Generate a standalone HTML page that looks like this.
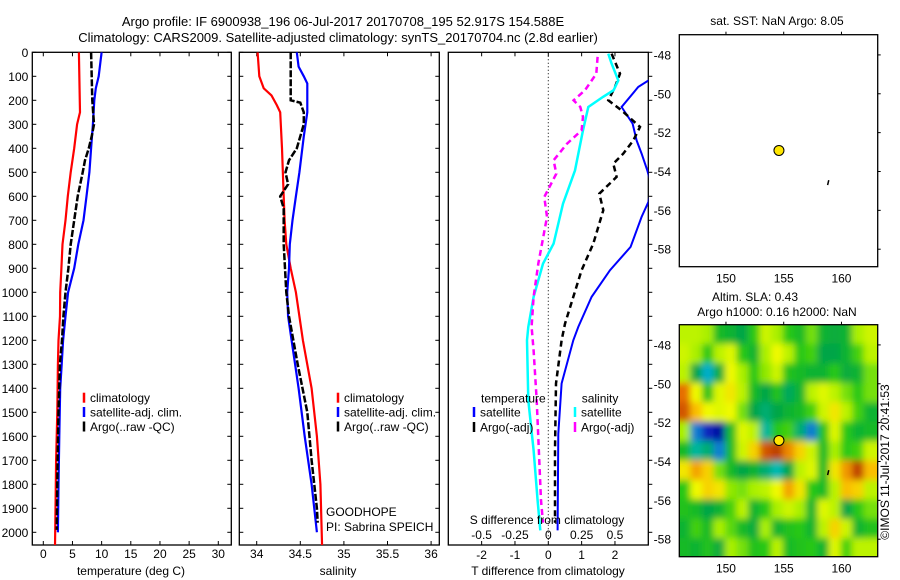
<!DOCTYPE html>
<html><head><meta charset="utf-8"><style>
html,body{margin:0;padding:0;background:#fff;}
svg{display:block;font-family:"Liberation Sans",Arial,sans-serif;}
text{font-size:12px;fill:#000;}
</style></head><body>
<svg id="fig" width="900" height="580" viewBox="0 0 900 580" xmlns="http://www.w3.org/2000/svg">
<defs>
<clipPath id="c1"><rect x="32.3" y="52.3" width="199" height="492.7"/></clipPath>
<clipPath id="c2"><rect x="239.3" y="52.3" width="200" height="492.7"/></clipPath>
<clipPath id="c3"><rect x="448.3" y="52.3" width="200" height="492.7"/></clipPath>
<clipPath id="cm"><rect x="679.3" y="324.7" width="198.4" height="232"/></clipPath>
<filter id="blur" x="-10%" y="-10%" width="120%" height="120%"><feGaussianBlur stdDeviation="3.5"/></filter>
</defs>
<text x="343" y="26" text-anchor="middle" style="font-size:13px">Argo profile: IF 6900938_196 06-Jul-2017 20170708_195 52.917S 154.588E</text>
<text x="338" y="42" text-anchor="middle" style="font-size:13px">Climatology: CARS2009. Satellite-adjusted climatology: synTS_20170704.nc (2.8d earlier)</text>
<g id="g1"></g>
<g id="g2"></g>
<g id="g3"></g>
<g id="gm1"></g>
<g id="gm2"></g>
</svg>
<script>
// ---------- data ----------
const depthTicks=[0,100,200,300,400,500,600,700,800,900,1000,1100,1200,1300,1400,1500,1600,1700,1800,1900,2000];
const tempTicks=[0,5,10,15,20,25,30];
const salTicks=[34,34.5,35,35.5,36];
const salTickLabels=["34","34.5","35","35.5","36"];
const dTTicks=[-2,-1,0,1,2];
const dSTicks=[-0.5,-0.25,0,0.25,0.5];
const dSTickLabels=["-0.5","-0.25","0","0.25","0.5"];

const climTDepth=[0,250,300,400,500,600,700,800,900,1000,1100,1200,1300,1500,1700,1900,2060];
const climT=[6.1,6.3,5.8,5.3,4.7,4.2,3.8,3.3,3.1,2.9,2.86,2.6,2.5,2.4,2.2,2.1,2.0];
const satTDepth=[0,100,150,200,300,400,500,600,700,800,900,1000,1100,1200,1300,1400,1600,1800,2000];
const satT=[10.0,9.5,9.0,8.75,8.5,8.2,7.9,7.4,6.9,6.0,5.3,4.25,3.8,3.4,3.15,2.9,2.75,2.6,2.5];
const argoTDepth=[0,200,300,350,400,450,500,600,700,800,900,1000,1100,1200,1300,1500,1700,1990];
const argoT=[8.2,8.4,8.7,8.3,7.8,7.15,6.75,5.9,5.3,4.7,4.3,3.8,3.45,3.2,2.85,2.6,2.45,2.3];

const climSDepth=[0,100,150,180,220,250,400,600,700,800,900,1000,1200,1400,1600,1800,2060];
const climS=[34.01,34.03,34.08,34.17,34.23,34.27,34.29,34.31,34.32,34.34,34.39,34.45,34.53,34.63,34.69,34.73,34.75];
const satSDepth=[0,60,100,130,250,350,500,600,700,800,900,1000,1100,1200,1400,1600,1800,2000];
const satS=[34.46,34.48,34.54,34.58,34.58,34.54,34.49,34.45,34.41,34.38,34.37,34.35,34.36,34.40,34.48,34.55,34.63,34.69];
const argoSDepth=[0,200,210,250,300,400,450,500,550,600,650,800,1000,1100,1300,1500,1700,1900,1960];
const argoS=[34.39,34.39,34.50,34.54,34.54,34.46,34.37,34.33,34.36,34.27,34.31,34.31,34.34,34.37,34.47,34.58,34.63,34.69,34.70];

const dTSatDepth=[0,100,144,228,297,367,422,492,560,624,686,811,908,1019,1144,1200,1380,1590,1992];
const dTSat=[3.6,3.2,2.7,2.2,2.53,2.65,2.8,2.97,3.1,3.0,2.8,2.47,1.85,1.3,0.9,0.75,0.4,0.3,0.28];
const dTArgoDepth=[6,89,144,200,242,311,367,422,464,519,589,658,797,908,1019,1131,1200,1380,1658,1922,1960];
const dTArgo=[1.9,2.15,2.0,1.8,2.2,2.75,2.55,2.25,1.95,2.05,1.53,1.65,1.35,1.0,0.75,0.5,0.4,0.23,0.2,0.2,0.2];
const dSSatDepth=[6,47,117,158,186,228,325,492,631,797,881,1019,1144,1200,1450,1658,1867,1992];
const dSSat=[0.45,0.475,0.525,0.49,0.41,0.3,0.26,0.2,0.11,0.04,-0.04,-0.11,-0.15,-0.16,-0.15,-0.11,-0.08,-0.06];
const dSArgoDepth=[19,89,158,200,228,269,325,381,450,506,603,686,881,1019,1144,1242,1450,1867,1960];
const dSArgo=[0.37,0.36,0.275,0.19,0.24,0.26,0.25,0.14,0.04,0.06,-0.03,-0.01,-0.075,-0.11,-0.125,-0.11,-0.087,-0.055,-0.04];

const latTicks=[-48,-50,-52,-54,-56,-58];
const lonTicks=[150,155,160];
const floatPos=[154.588,-52.917];
const trackLon=[158.9,158.8];
const trackLat=[-54.45,-54.7];
const gridLats=[-47.5,-48.5,-49.5,-50.5,-51.5,-52.5,-53.5,-54.5,-55.5,-56.5,-57.5,-58.5];
const gridLons=[146.5,147.5,148.5,149.5,150.5,151.5,152.5,153.5,154.5,155.5,156.5,157.5,158.5,159.5,160.5,161.5,162.5];
const slaRow0=[0.3,0.3,0.2,-0.5,-0.6,-0.8,-0.3,0.4,0.2,-0.3,-0.5,0,-0.6,-0.7,-0.6,0.2,0.4];
const slaRow1=[0.4,0.2,-0.3,0.3,0.5,-0.3,-0.6,0.2,0.6,0.3,-0.3,-0.2,-0.8,-0.8,-0.6,-0.2,0.3];
const slaRow2=[0.3,-0.8,-1.5,-0.7,0.6,0.2,-0.3,0.1,0.4,-0.4,-0.5,-0.6,-0.6,-0.3,-0.7,-0.6,0];
const slaRow3=[1.8,0.6,-0.4,0.5,0.8,0.3,-0.5,-0.8,-0.4,-0.9,-0.6,0.3,0.5,0.3,0,-0.3,0];
const slaRow4=[2.0,1.2,0.6,0.5,0.6,0,-0.8,-1,-0.8,-0.6,-0.5,-0.2,0.4,0.8,0.3,-0.2,-0.6];
const slaRow5=[0.2,-1.8,-2.5,-2.8,-0.5,0.5,0.3,-1.2,-0.3,-0.2,-1,-1.8,-0.4,0.5,-0.3,-0.6,-0.5];
const slaRow6=[-0.5,-1.2,-1,-1.8,-0.5,0.4,1.0,2.0,2.2,1.6,1.0,0.4,-0.5,0.2,-0.3,-0.2,0.4];
const slaRow7=[0.8,1.4,1.0,0,-0.5,-0.8,-0.6,-1,-1.3,-0.8,0.3,0.5,-0.5,0.8,1.5,2.2,1.2];
const slaRow8=[-0.3,0.6,1.0,0.8,0.1,0,0.2,0.3,0.6,1.4,0.8,-0.3,-0.5,0.3,1.2,1.0,0.3];
const slaRow9=[-0.4,-0.5,-0.8,-0.6,-0.2,0.3,-0.6,-0.3,0.2,0.4,0.2,-0.6,0.5,0.3,-0.8,-0.3,0];
const slaRow10=[-0.6,-0.2,-0.5,0.2,-0.1,-0.5,-0.7,0.2,-0.6,-0.4,-0.3,-0.6,0.3,1.0,0.4,-0.6,-0.4];
const slaRow11=[-0.5,-0.6,-0.4,-0.7,0.2,0,-0.4,-0.3,0.3,-0.5,-0.4,-0.3,-0.6,0.5,-0.2,0.3,0.3];
const slaGrid=[slaRow0,slaRow1,slaRow2,slaRow3,slaRow4,slaRow5,slaRow6,slaRow7,slaRow8,slaRow9,slaRow10,slaRow11];

// ---------- helpers ----------
const NS="http://www.w3.org/2000/svg";
function mk(parent,tag,attrs,txt){const e=document.createElementNS(NS,tag);for(const k in attrs)e.setAttribute(k,attrs[k]);if(txt!==undefined)e.textContent=txt;parent.appendChild(e);return e;}
const TOP=52.3,BOT=545;
const yD=d=>52.3+0.24*d;
const xT=t=>43.3+5.833*t;
const xS=s=>256.7+87.2*(s-34);
const xdT=t=>548.3+33.33*t;
const xdS=s=>548.3+133.3*s;
function line(g,xs,ds,fx,color,w,dash,name,clip){
  const pts=xs.map((v,i)=>fx(v).toFixed(1)+","+yD(ds[i]).toFixed(1)).join(" ");
  const p=mk(g,"polyline",{points:pts,fill:"none",stroke:color,"stroke-width":w,"clip-path":"url(#"+clip+")"});
  if(dash)p.setAttribute("stroke-dasharray",dash);
  
  
}
function frame(g,x0,x1,name){
  const r=mk(g,"rect",{x:x0,y:TOP,width:x1-x0,height:BOT-TOP,fill:"none",stroke:"#000","stroke-width":1.3});
  
  
}
function depthTicksDraw(g,x0,x1,labels,outRight){
  depthTicks.forEach(d=>{
    const y=yD(d);
    if(outRight){mk(g,"line",{x1:x1,x2:x1+4,y1:y,y2:y,stroke:"#000"});}
    else{mk(g,"line",{x1:x0,x2:x0+4,y1:y,y2:y,stroke:"#000"});mk(g,"line",{x1:x1-4,x2:x1,y1:y,y2:y,stroke:"#000"});}
    if(labels){const t=mk(g,"text",{x:x0-4,y:y+4.5,"text-anchor":"end"},String(d));
      
      }
  });
}
function xTicks(g,vals,labs,fx,ly){
  vals.forEach((v,i)=>{const x=fx(v);
    mk(g,"line",{x1:x,x2:x,y1:TOP,y2:TOP+4,stroke:"#000"});
    mk(g,"line",{x1:x,x2:x,y1:BOT-4,y2:BOT,stroke:"#000"});
    const t=mk(g,"text",{x:x,y:ly,"text-anchor":"middle"},labs[i]);
    
    
  });
}
function legend(g,x,y,color,label){
  const l=mk(g,"line",{x1:x,x2:x,y1:y-5,y2:y+5,stroke:color,"stroke-width":2.5});
  
  
  const t=mk(g,"text",{x:x+6,y:y+4.5},label);
  
  
}

// ---------- panel 1: temperature ----------
const g1=document.getElementById("g1");
frame(g1,32.3,231.3,"temperature-axes");
depthTicksDraw(g1,32.3,231.3,true,false);
xTicks(g1,tempTicks,tempTicks.map(String),xT,558);
mk(g1,"text",{x:131,y:575,"text-anchor":"middle"},"temperature (deg C)");
line(g1,climT,climTDepth,xT,"#f00",2.2,null,"clim-temperature-line","c1");
line(g1,satT,satTDepth,xT,"#00f",2.2,null,"sat-temperature-line","c1");
line(g1,argoT,argoTDepth,xT,"#000",2.5,"7,2","argo-temperature-line","c1");
legend(g1,84,397.7,"#f00","climatology");
legend(g1,84,412,"#00f","satellite-adj. clim.");
legend(g1,84,426.5,"#000","Argo(..raw -QC)");

// ---------- panel 2: salinity ----------
const g2=document.getElementById("g2");
frame(g2,239.3,439.3,"salinity-axes");
depthTicksDraw(g2,239.3,439.3,false,false);
xTicks(g2,salTicks,salTickLabels,xS,558);
mk(g2,"text",{x:338,y:575,"text-anchor":"middle"},"salinity");
line(g2,climS,climSDepth,xS,"#f00",2.2,null,"clim-salinity-line","c2");
line(g2,satS,satSDepth,xS,"#00f",2.2,null,"sat-salinity-line","c2");
line(g2,argoS,argoSDepth,xS,"#000",2.5,"7,2","argo-salinity-line","c2");
legend(g2,338,397.7,"#f00","climatology");
legend(g2,338,412,"#00f","satellite-adj. clim.");
legend(g2,338,426.5,"#000","Argo(..raw -QC)");
mk(g2,"text",{x:326,y:516},"GOODHOPE");
mk(g2,"text",{x:326,y:531},"PI: Sabrina SPEICH");

// ---------- panel 3: differences ----------
const g3=document.getElementById("g3");
frame(g3,448.3,648.3,"difference-axes");
depthTicksDraw(g3,448.3,648.3,false,true);
dTTicks.forEach(v=>{const x=xdT(v);mk(g3,"line",{x1:x,x2:x,y1:TOP,y2:TOP+4,stroke:"#000"});mk(g3,"line",{x1:x,x2:x,y1:BOT-4,y2:BOT,stroke:"#000"});
  const t=mk(g3,"text",{x:x,y:559,"text-anchor":"middle"},String(v));});
mk(g3,"line",{x1:xdT(0),x2:xdT(0),y1:TOP,y2:540,stroke:"#000","stroke-dasharray":"1,2.5"});
line(g3,dTSat,dTSatDepth,xdT,"#00f",2,null,"sat-t-diff-line","c3");
line(g3,dTArgo,dTArgoDepth,xdT,"#000",2.5,"6,4","argo-t-diff-line","c3");
line(g3,dSSat,dSSatDepth,xdS,"#0ff",2.5,null,"sat-s-diff-line","c3");
line(g3,dSArgo,dSArgoDepth,xdS,"#f0f",2.5,"6,4","argo-s-diff-line","c3");
mk(g3,"text",{x:481,y:402.5},"temperature");
legend(g3,474,412,"#00f","satellite");
legend(g3,474,427,"#000","Argo(-adj)");
mk(g3,"text",{x:581.7,y:402.5},"salinity");
legend(g3,575,412,"#0ff","satellite");
legend(g3,575,427,"#f0f","Argo(-adj)");
mk(g3,"text",{x:547,y:524,"text-anchor":"middle"},"S difference from climatology");
dSTicks.forEach((v,i)=>{const t=mk(g3,"text",{x:xdS(v),y:539,"text-anchor":"middle"},dSTickLabels[i]);});
mk(g3,"text",{x:548,y:575,"text-anchor":"middle"},"T difference from climatology");

// ---------- maps ----------
const ML=679.3,MR=877.7;
const xLon=l=>679.3+11.55*(l-145.96);
function cmap(v){
  const stops=[[-3,[0,0,140]],[-2.2,[20,60,220]],[-1.4,[0,190,200]],[-0.8,[0,165,70]],[-0.3,[40,200,20]],[0.2,[170,240,0]],[0.6,[240,250,0]],[1.2,[250,190,0]],[1.8,[230,110,0]],[2.4,[170,40,0]]];
  if(v<=stops[0][0])return "rgb("+stops[0][1]+")";
  for(let i=1;i<stops.length;i++){if(v<=stops[i][0]){const a=stops[i-1],b=stops[i];const f=(v-a[0])/(b[0]-a[0]);
    return "rgb("+a[1].map((c,k)=>Math.round(c+(b[1][k]-c)*f)).join(",")+")";}}
  return "rgb("+stops[stops.length-1][1]+")";
}
function drawMap(g,top,withField){
  const yLat=la=>top+19.43*(-46.96-la);
  const h=232;
  if(withField){
    const fg=mk(g,"g",{"clip-path":"url(#cm)"});
    const bg=mk(fg,"g",{filter:"url(#blur)"});
    slaGrid.forEach((row,ri)=>row.forEach((v,ci)=>{
      let x=xLon(gridLons[ci]-0.5)-1, y=yLat(gridLats[ri]+0.5)-1, w=13.6, hh=21.5;
      if(ri===0){y-=12;hh+=12;}
      if(ri===slaGrid.length-1){hh+=14;}
      if(ci===0){x-=12;w+=12;}
      if(ci===row.length-1){w+=12;}
      const r=mk(bg,"rect",{x:x.toFixed(1),y:y.toFixed(1),width:w,height:hh,fill:cmap(v)});
      
      
    }));
  }
  const fr=mk(g,"rect",{x:ML,y:top,width:MR-ML,height:h,fill:"none",stroke:"#000","stroke-width":1.3});
  
  
  latTicks.forEach(la=>{const y=yLat(la);mk(g,"line",{x1:MR,x2:MR+3,y1:y,y2:y,stroke:"#000"});
    const t=mk(g,"text",{x:671,y:y+4.5,"text-anchor":"end"},String(la));});
  lonTicks.forEach(lo=>{const x=xLon(lo);mk(g,"line",{x1:x,x2:x,y1:top-3,y2:top,stroke:"#000"});
    const t=mk(g,"text",{x:x,y:top+h+16,"text-anchor":"middle"},String(lo));});
  const c=mk(g,"circle",{cx:xLon(floatPos[0]),cy:yLat(floatPos[1]),r:5,fill:"#ffe600",stroke:"#000","stroke-width":1});
  
  
  const tr=mk(g,"line",{x1:xLon(trackLon[0]),y1:yLat(trackLat[0]),x2:xLon(trackLon[1]),y2:yLat(trackLat[1]),stroke:"#000","stroke-width":1.5});
  
  
}
const gm1=document.getElementById("gm1");
drawMap(gm1,34.7,false);
mk(gm1,"text",{x:777,y:25,"text-anchor":"middle"},"sat. SST: NaN Argo: 8.05");
const gm2=document.getElementById("gm2");
drawMap(gm2,324.7,true);
mk(gm2,"text",{x:755,y:301,"text-anchor":"middle"},"Altim. SLA: 0.43");
mk(gm2,"text",{x:777,y:316,"text-anchor":"middle"},"Argo h1000: 0.16 h2000: NaN");
mk(gm2,"text",{x:0,y:0,"text-anchor":"middle",transform:"translate(889,462) rotate(-90)"},"©IMOS 11-Jul-2017 20:41:53");
</script>
</body></html>
